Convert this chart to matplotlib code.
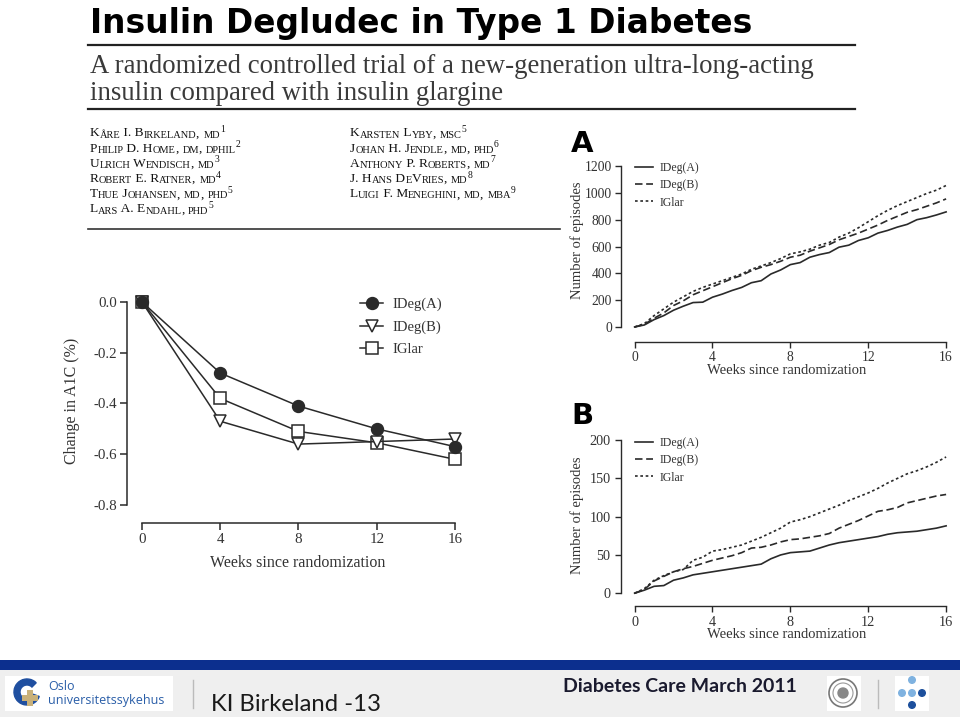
import numpy as np
import matplotlib
matplotlib.use("Agg")
import matplotlib.pyplot as plt
from matplotlib.patches import Rectangle, Circle, Wedge

# ---------------- data ----------------
a1c_weeks = [0, 4, 8, 12, 16]
a1c_ideg_a = [0.0, -0.28, -0.41, -0.50, -0.57]
a1c_ideg_b = [0.0, -0.47, -0.56, -0.55, -0.54]
a1c_iglar = [0.0, -0.38, -0.51, -0.555, -0.62]
a1c_yticks = [0.0, -0.2, -0.4, -0.6, -0.8]
a1c_yticklabels = ["0.0", "-0.2", "-0.4", "-0.6", "-0.8"]
week_ticks = [0, 4, 8, 12, 16]

cum_weeks = [0, 0.5, 1, 1.5, 2, 2.5, 3, 3.5, 4, 4.5, 5, 5.5, 6, 6.5, 7, 7.5, 8,
             8.5, 9, 9.5, 10, 10.5, 11, 11.5, 12, 12.5, 13, 13.5, 14, 14.5, 15, 15.5, 16]
# Panel A: all hypoglycaemia episodes
epA_ideg_a = [0, 15, 55, 85, 125, 155, 182, 185, 222, 245, 272, 295, 330, 345, 395, 425, 465,
              480, 520, 540, 555, 595, 610, 645, 665, 700, 720, 745, 765, 800, 815, 835, 858]
epA_ideg_b = [0, 20, 65, 105, 160, 195, 240, 270, 300, 330, 360, 385, 420, 445, 465, 490, 520,
              535, 565, 590, 615, 650, 675, 700, 730, 760, 795, 825, 855, 875, 900, 925, 955]
epA_iglar = [0, 25, 85, 135, 185, 225, 265, 295, 320, 345, 370, 395, 430, 455, 480, 510, 545,
             560, 580, 610, 630, 670, 700, 740, 785, 830, 870, 905, 935, 965, 995, 1020, 1055]
# Panel B: nocturnal episodes
epB_ideg_a = [0, 4, 9, 10, 17, 20, 24, 26, 28, 30, 32, 34, 36, 38, 45, 50, 53,
              54, 55, 59, 63, 66, 68, 70, 72, 74, 77, 79, 80, 81, 83, 85, 88]
epB_ideg_b = [0, 5, 16, 22, 28, 32, 35, 39, 43, 46, 49, 53, 59, 60, 63, 67, 70,
              71, 73, 75, 78, 85, 90, 95, 101, 107, 109, 112, 118, 121, 124, 127, 129]
epB_iglar = [0, 6, 17, 23, 28, 31, 43, 47, 55, 57, 60, 63, 68, 73, 79, 85, 93,
             96, 100, 105, 110, 115, 121, 126, 131, 137, 144, 150, 156, 160, 165, 171, 178]
epA_yticks = [0, 200, 400, 600, 800, 1000, 1200]
epB_yticks = [0, 50, 100, 150, 200]

series_names = ["IDeg(A)", "IDeg(B)", "IGlar"]

authors_left = [("Kåre I. Birkeland, md", "1"), ("Philip D. Home, dm, dphil", "2"),
                ("Ulrich Wendisch, md", "3"), ("Robert E. Ratner, md", "4"),
                ("Thue Johansen, md, phd", "5"), ("Lars A. Endahl, phd", "5")]
authors_right = [("Karsten Lyby, msc", "5"), ("Johan H. Jendle, md, phd", "6"),
                 ("Anthony P. Roberts, md", "7"), ("J. Hans DeVries, md", "8"),
                 ("Luigi F. Meneghini, md, mba", "9")]

# ---------------- figure ----------------
W, H = 960, 717
fig = plt.figure(figsize=(W / 100, H / 100), dpi=100)
fig.patch.set_facecolor("white")

bg = fig.add_axes([0, 0, 1, 1], zorder=0)
bg.set_xlim(0, W)
bg.set_ylim(H, 0)
bg.axis("off")

SERIF = ["Liberation Serif", "DejaVu Serif"]


def axes_px(left, top, right, bottom):
    return fig.add_axes([left / W, 1 - bottom / H, (right - left) / W, (bottom - top) / H], zorder=2)


# ---------- header ----------
bg.text(90, 33, "Insulin Degludec in Type 1 Diabetes", fontsize=23.7, fontweight="heavy",
        family=["DejaVu Sans"], color="black", va="baseline", ha="left")
bg.plot([88, 855], [44.5, 44.5], color="#222222", lw=1.6)
bg.text(90, 73, "A randomized controlled trial of a new-generation ultra-long-acting",
        fontsize=19.3, family=SERIF, color="#3a3a3a", va="baseline")
bg.text(90, 99.5, "insulin compared with insulin glargine",
        fontsize=19.3, family=SERIF, color="#3a3a3a", va="baseline")
bg.plot([88, 855], [108.5, 108.5], color="#222222", lw=1.6)
bg.plot([88, 560], [228.5, 228.5], color="#333333", lw=1.2)


def smallcaps(x, y, s, sup, size=9.6):
    runs = []
    cur, cur_big = "", None
    for ch in s:
        big = not ch.islower()
        if cur_big is None or big == cur_big:
            cur += ch
        else:
            runs.append((cur, cur_big))
            cur = ch
        cur_big = big
    runs.append((cur, cur_big))
    prev = None
    for txt, big in runs:
        fs = size if big else size * 0.78
        t = txt if big else txt.upper()
        if prev is None:
            prev = bg.text(x, y, t, fontsize=fs, family=SERIF, color="#111111", va="bottom")
        else:
            prev = bg.annotate(t, xy=(1, 0), xycoords=prev, fontsize=fs, family=SERIF,
                               color="#111111", va="bottom")
    bg.annotate(sup, xy=(1, 0.6), xycoords=prev, fontsize=size * 0.72, family=SERIF,
                color="#111111", va="bottom")


for i, (name, sup) in enumerate(authors_left):
    smallcaps(90, 139.5 + i * 15.2, name, sup)
for i, (name, sup) in enumerate(authors_right):
    smallcaps(350, 139.5 + i * 15.2, name, sup)

# ---------- main A1C chart ----------
ax1 = axes_px(127, 295, 470, 523)
ax1.set_xlim(-0.767, 16.77)
ax1.set_ylim(-0.871, 0.0276)
lc = "#2a2a2a"
ax1.plot(a1c_weeks, a1c_iglar, color=lc, lw=1.1, marker="s", ms=8.2, mfc="white",
         mec=lc, mew=1.1, label=series_names[2], zorder=3)
ax1.plot(a1c_weeks, a1c_ideg_b, color=lc, lw=1.1, marker="v", ms=8.6, mfc="white",
         mec=lc, mew=1.1, label=series_names[1], zorder=4)
ax1.plot(a1c_weeks, a1c_ideg_a, color=lc, lw=1.1, marker="o", ms=8.6, mfc=lc,
         mec=lc, label=series_names[0], zorder=5)
for sp in ["top", "right"]:
    ax1.spines[sp].set_visible(False)
ax1.spines["left"].set_bounds(-0.8, 0)
ax1.spines["bottom"].set_bounds(0, 16)
for sp in ["left", "bottom"]:
    ax1.spines[sp].set_color(lc)
    ax1.spines[sp].set_linewidth(1.1)
ax1.set_yticks(a1c_yticks)
ax1.set_yticklabels(a1c_yticklabels)
ax1.set_xticks(week_ticks)
ax1.set_xticklabels([str(w) for w in week_ticks])
ax1.tick_params(direction="out", length=5, width=1.1, color=lc, labelsize=10.8,
                labelcolor="#333333", pad=2)
for lab in ax1.get_xticklabels() + ax1.get_yticklabels():
    lab.set_family(SERIF)
ax1.patch.set_alpha(0)
h, l = ax1.get_legend_handles_labels()
ax1.legend(h[::-1], l[::-1], loc="upper left", bbox_to_anchor=(360 / W, 1 - 298 / H),
           bbox_transform=fig.transFigure, frameon=False, handlelength=1.6,
           handletextpad=0.6, labelspacing=0.62, borderaxespad=0, borderpad=0,
           prop={"family": SERIF, "size": 10.5}, labelcolor="#333333")
bg.text(72, 401, "Change in A1C (%)", rotation=90, ha="center", va="center",
        fontsize=11.5, family=SERIF, color="#333333")
bg.text(298, 563, "Weeks since randomization", ha="center", va="center",
        fontsize=11.5, family=SERIF, color="#333333")


# ---------- cumulative panels ----------
def cum_panel(letter, top, bottom, ymin, ymax, yticks, d_a, d_b, d_g, xlabel_y, ylabel_y,
              letter_y, leg_y, tick_fs, tick_pad):
    ax = axes_px(621, top, 950, bottom)
    ax.set_xlim(-0.7, 16.2)
    ax.set_ylim(ymin, ymax)
    ax.plot(cum_weeks, d_a, color=lc, lw=1.2, label=series_names[0])
    ax.plot(cum_weeks, d_b, color=lc, lw=1.2, dashes=(4.5, 2.2), label=series_names[1])
    ax.plot(cum_weeks, d_g, color=lc, lw=1.2, dashes=(1.6, 1.6), label=series_names[2])
    for sp in ["top", "right"]:
        ax.spines[sp].set_visible(False)
    ax.spines["left"].set_bounds(yticks[0], yticks[-1])
    ax.spines["bottom"].set_bounds(0, 16)
    for sp in ["left", "bottom"]:
        ax.spines[sp].set_color(lc)
        ax.spines[sp].set_linewidth(1.0)
    ax.set_yticks(yticks)
    ax.set_xticks(week_ticks)
    ax.tick_params(direction="out", length=4, width=1.0, color=lc, labelsize=tick_fs,
                   labelcolor="#333333", pad=tick_pad)
    for lab in ax.get_xticklabels() + ax.get_yticklabels():
        lab.set_family(SERIF)
    ax.patch.set_alpha(0)
    ax.legend(loc="upper left", bbox_to_anchor=(635 / W, 1 - leg_y / H),
              bbox_transform=fig.transFigure, frameon=False, handlelength=1.5,
              handletextpad=0.6, labelspacing=0.45, borderaxespad=0, borderpad=0,
              prop={"family": SERIF, "size": 8.5}, labelcolor="#333333")
    bg.text(787, xlabel_y, "Weeks since randomization", ha="center", va="center",
            fontsize=10.5, family=SERIF, color="#333333")
    bg.text(577, ylabel_y, "Number of episodes", rotation=90, ha="center", va="center",
            fontsize=10.5, family=SERIF, color="#333333")
    bg.text(571, letter_y, letter, fontsize=21, fontweight="heavy",
            family=["DejaVu Sans"], color="black", va="baseline")
    return ax


cum_panel("A", 160, 342, -112, 1245, epA_yticks, epA_ideg_a, epA_ideg_b, epA_iglar,
          371, 240, 152, 162, 9.8, 2.5)
cum_panel("B", 434, 606, -16.7, 208, epB_yticks, epB_ideg_a, epB_ideg_b, epB_iglar,
          635, 515, 424, 437, 10.3, 3.5)

# ---------- footer ----------
bg.add_patch(Rectangle((0, 670), W, 47, color="#efefef", lw=0, zorder=1))
bg.add_patch(Rectangle((0, 660), W, 10, color="#0c2f8e", lw=0, zorder=2))
bg.add_patch(Rectangle((5, 676), 168, 35, color="white", lw=0, zorder=2))
# Oslo universitetssykehus logo
bg.add_patch(Wedge((27, 692), 13, 20, 315, width=6, color="#1f4fa0", zorder=3))
bg.add_patch(Rectangle((27, 690), 6, 16, color="#c9b17a", lw=0, zorder=4))
bg.add_patch(Rectangle((22, 695), 16, 6, color="#c9b17a", lw=0, zorder=4))
bg.text(48, 690, "Oslo", fontsize=9, color="#2a5ea8", family=["Open Sans", "DejaVu Sans"],
        va="baseline", zorder=5)
bg.text(48, 704, "universitetssykehus", fontsize=9, color="#2a5ea8",
        family=["Open Sans", "DejaVu Sans"], va="baseline", zorder=5)
bg.plot([193, 193], [680, 708], color="#bbbbbb", lw=1, zorder=5)
bg.text(211, 711, "KI Birkeland -13", fontsize=17.2, color="#1a1a1a",
        family=["Lato", "DejaVu Sans"], va="baseline", zorder=5)
bg.text(563, 692, "Diabetes Care March 2011", fontsize=14, fontweight="bold",
        color="#1a1a2e", family=["Lato", "DejaVu Sans"], va="baseline", zorder=5)
# seal
bg.add_patch(Rectangle((827, 676), 34, 35, color="white", lw=0, zorder=2))
bg.add_patch(Circle((843, 693), 14, fill=False, ec="#777777", lw=1.2, zorder=3))
bg.add_patch(Circle((843, 693), 10, fill=False, ec="#999999", lw=0.8, zorder=3))
bg.add_patch(Circle((843, 693), 5, color="#888888", zorder=3))
bg.plot([878, 878], [680, 708], color="#bbbbbb", lw=1, zorder=5)
# dots logo
bg.add_patch(Rectangle((895, 676), 34, 35, color="white", lw=0, zorder=2))
for (cx, cy, col) in [(912, 680, "#7fb2e0"), (902, 693, "#7fb2e0"), (912, 693, "#7fb2e0"),
                      (922, 693, "#1c4f9c"), (912, 705, "#1c4f9c")]:
    bg.add_patch(Circle((cx, cy), 3.3, color=col, zorder=3))

fig.savefig("out.png", dpi=100)
